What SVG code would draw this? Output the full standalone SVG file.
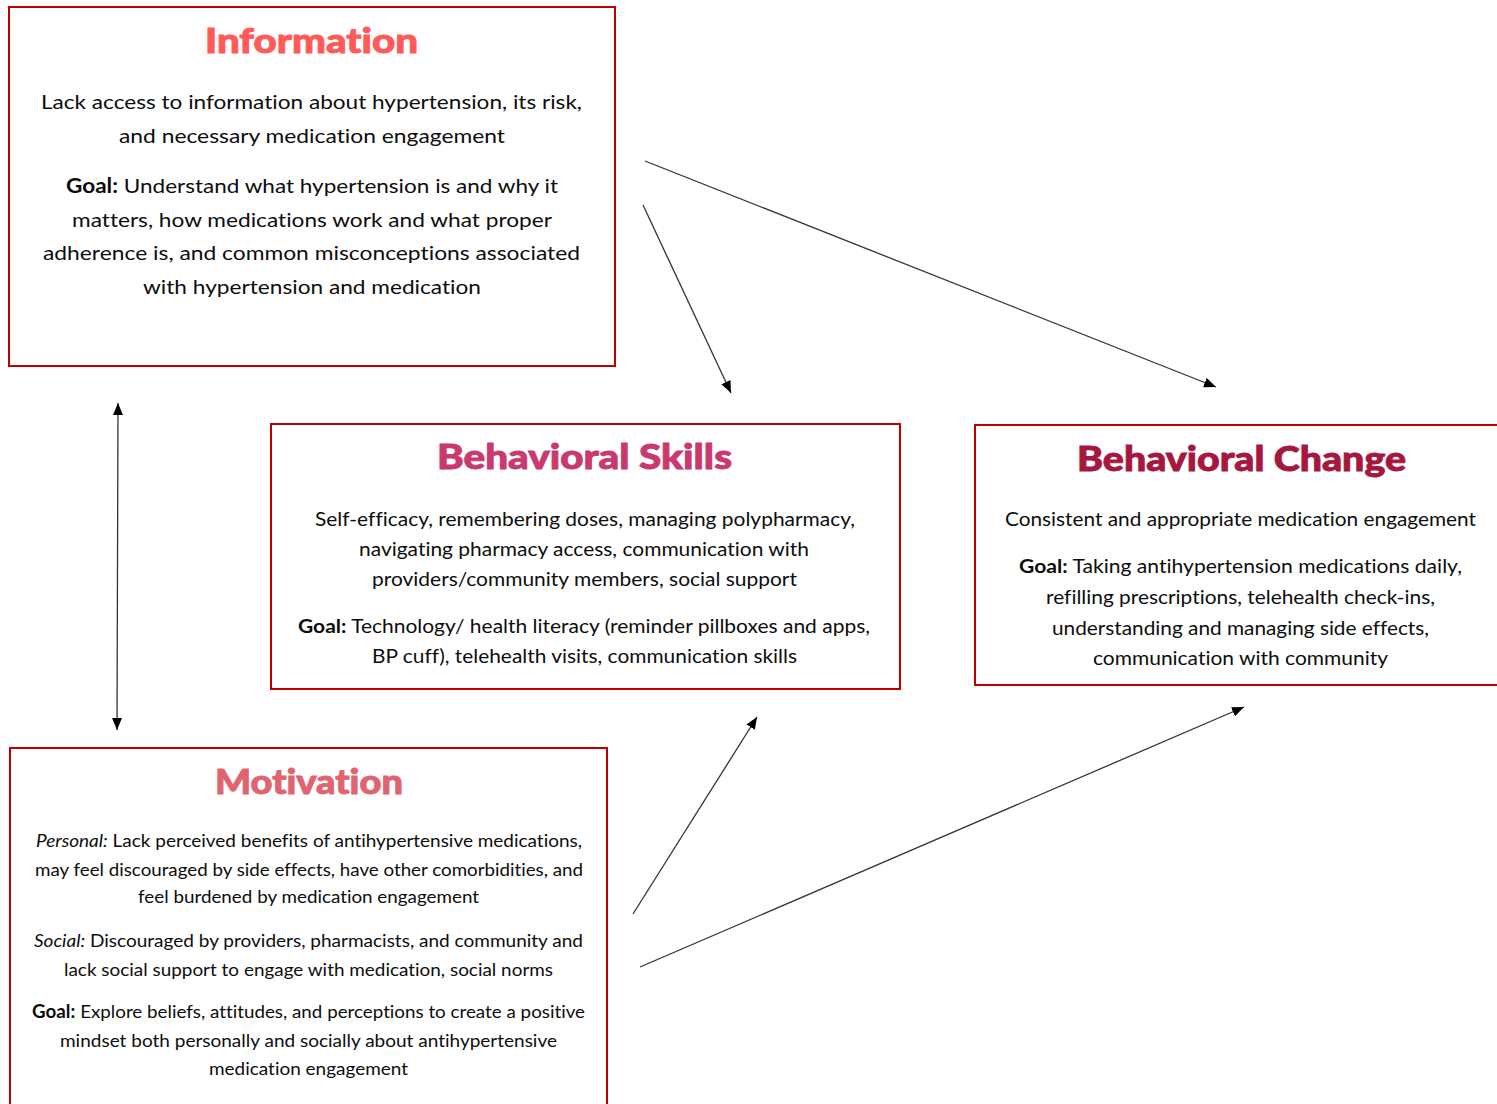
<svg xmlns="http://www.w3.org/2000/svg" width="1497" height="1104" viewBox="0 0 1497 1104">
<defs>
<style>
.box{fill:#ffffff;stroke:#C00000;stroke-width:2}
.t{font-family:Lato,"Open Sans","Liberation Sans",sans-serif;font-weight:900;font-variant-ligatures:none;stroke-width:0.9;paint-order:stroke}
.b{font-family:Lato,"Open Sans","Liberation Sans",sans-serif;fill:#0d0d0d;font-variant-ligatures:none}
.bc{font-family:Lato,"Noto Sans","Liberation Sans",sans-serif;fill:#0d0d0d;font-variant-ligatures:none}
.g{font-weight:700}
.i{font-style:italic}
.c{fill:none;stroke:#333333;stroke-width:1.3}
</style>
<marker id="ah" markerUnits="userSpaceOnUse" markerWidth="12" markerHeight="10" refX="12" refY="5" orient="auto-start-reverse">
<path d="M0,0 L12,5 L0,10 z" fill="#000000"/>
</marker>
</defs>
<rect width="1497" height="1104" fill="#ffffff"/>

<g id="connectors">
<line class="c" x1="645" y1="161" x2="1216" y2="387" marker-end="url(#ah)"/>
<line class="c" x1="643" y1="205" x2="731" y2="393" marker-end="url(#ah)"/>
<line class="c" x1="118" y1="403" x2="117" y2="730" marker-start="url(#ah)" marker-end="url(#ah)"/>
<line class="c" x1="633" y1="914" x2="757" y2="717" marker-end="url(#ah)"/>
<line class="c" x1="640" y1="967" x2="1244" y2="707" marker-end="url(#ah)"/>
</g>

<g id="information">
<rect class="box" x="9" y="7" width="606" height="359"/>
<text class="t" x="205" y="53" font-size="34" fill="#FF5A5A" stroke="#FF5A5A" textLength="213" lengthAdjust="spacingAndGlyphs">Information</text>
<g font-size="20">
<text class="b" x="41" y="109" textLength="541" lengthAdjust="spacingAndGlyphs">Lack access to information about hypertension, its risk,</text>
<text class="b" x="119" y="143" textLength="386" lengthAdjust="spacingAndGlyphs">and necessary medication engagement</text>
<text class="b" x="66" y="193" textLength="492" lengthAdjust="spacingAndGlyphs"><tspan class="g">Goal:</tspan> Understand what hypertension is and why it</text>
<text class="b" x="72" y="227" textLength="480" lengthAdjust="spacingAndGlyphs">matters, how medications work and what proper</text>
<text class="b" x="43" y="260" textLength="537" lengthAdjust="spacingAndGlyphs">adherence is, and common misconceptions associated</text>
<text class="b" x="143" y="294" textLength="338" lengthAdjust="spacingAndGlyphs">with hypertension and medication</text>
</g>
</g>

<g id="behavioral-skills">
<rect class="box" x="271" y="424" width="629" height="265"/>
<text class="t" x="437" y="469" font-size="35" fill="#C9396D" stroke="#C9396D" textLength="295" lengthAdjust="spacingAndGlyphs">Behavioral Skills</text>
<g font-size="19.5">
<text class="b" x="315" y="526" textLength="540" lengthAdjust="spacingAndGlyphs">Self-efficacy, remembering doses, managing polypharmacy,</text>
<text class="b" x="359" y="556" textLength="450" lengthAdjust="spacingAndGlyphs">navigating pharmacy access, communication with</text>
<text class="b" x="372" y="586" textLength="425" lengthAdjust="spacingAndGlyphs">providers/community members, social support</text>
<text class="b" x="298" y="633" textLength="572" lengthAdjust="spacingAndGlyphs"><tspan class="g">Goal:</tspan> Technology/ health literacy (reminder pillboxes and apps,</text>
<text class="b" x="372" y="663" textLength="425" lengthAdjust="spacingAndGlyphs">BP cuff), telehealth visits, communication skills</text>
</g>
</g>

<g id="behavioral-change">
<rect class="box" x="975" y="425" width="530" height="260"/>
<text class="t" x="1077" y="471" font-size="35" fill="#A6173F" stroke="#A6173F" textLength="329" lengthAdjust="spacingAndGlyphs">Behavioral Change</text>
<g font-size="19">
<text class="bc" x="1005" y="526" textLength="471" lengthAdjust="spacingAndGlyphs">Consistent and appropriate medication engagement</text>
<text class="bc" x="1019" y="573" textLength="443" lengthAdjust="spacingAndGlyphs"><tspan class="g">Goal:</tspan> Taking antihypertension medications daily,</text>
<text class="bc" x="1046" y="604" textLength="389" lengthAdjust="spacingAndGlyphs">refilling prescriptions, telehealth check-ins,</text>
<text class="bc" x="1052" y="635" textLength="377" lengthAdjust="spacingAndGlyphs">understanding and managing side effects,</text>
<text class="bc" x="1093" y="665" textLength="295" lengthAdjust="spacingAndGlyphs">communication with community</text>
</g>
</g>

<g id="motivation">
<rect class="box" x="10" y="748" width="597" height="370"/>
<text class="t" x="215" y="794" font-size="35" fill="#E0646F" stroke="#E0646F" textLength="188" lengthAdjust="spacingAndGlyphs">Motivation</text>
<g font-size="18">
<text class="b" x="36" y="847" textLength="546" lengthAdjust="spacingAndGlyphs"><tspan class="i">Personal:</tspan> Lack perceived benefits of antihypertensive medications,</text>
<text class="b" x="35" y="876" textLength="548" lengthAdjust="spacingAndGlyphs">may feel discouraged by side effects, have other comorbidities, and</text>
<text class="b" x="138" y="903" textLength="341" lengthAdjust="spacingAndGlyphs">feel burdened by medication engagement</text>
<text class="b" x="34" y="947" textLength="549" lengthAdjust="spacingAndGlyphs"><tspan class="i">Social:</tspan> Discouraged by providers, pharmacists, and community and</text>
<text class="b" x="64" y="976" textLength="489" lengthAdjust="spacingAndGlyphs">lack social support to engage with medication, social norms</text>
<text class="b" x="32" y="1018" textLength="553" lengthAdjust="spacingAndGlyphs"><tspan class="g">Goal:</tspan> Explore beliefs, attitudes, and perceptions to create a positive</text>
<text class="b" x="60" y="1047" textLength="497" lengthAdjust="spacingAndGlyphs">mindset both personally and socially about antihypertensive</text>
<text class="b" x="209" y="1075" textLength="199" lengthAdjust="spacingAndGlyphs">medication engagement</text>
</g>
</g>
</svg>
